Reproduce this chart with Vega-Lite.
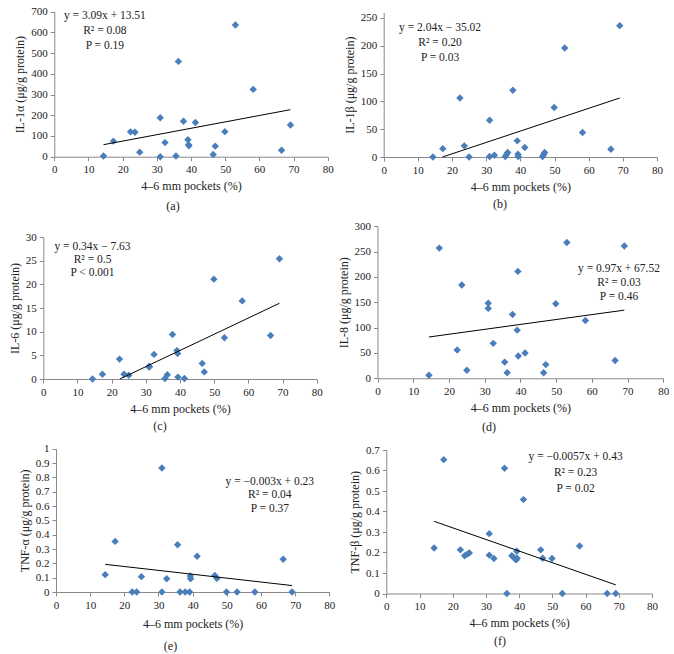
{
  "$schema": "https://vega.github.io/schema/vega-lite/v6.json",
  "padding": 0,
  "background": "white",
  "columns": 2,
  "spacing": 0,
  "bounds": "flush",
  "config": {
    "view": {"stroke": null},
    "axis": {"grid": false, "domainColor": "#8a8a8a", "tickColor": "#8a8a8a", "tickSize": 4, "labelFont": "Liberation Serif", "labelFontSize": 11, "labelColor": "#222222", "titleFont": "Liberation Serif", "titleFontSize": 12, "titleFontWeight": "normal", "titleColor": "#222222", "labelPadding": 3, "titlePadding": 6, "labelFlush": false, "labelOverlap": false},
    "title": {"font": "Liberation Serif", "fontSize": 12, "fontWeight": "normal", "color": "#222222", "orient": "bottom", "anchor": "middle", "frame": "group"},
    "text": {"font": "Liberation Serif", "fontSize": 11.5, "color": "#222222"}
  },
  "datasets": {
    "a": [{"x":14.4,"y":3},{"x":17.3,"y":75},{"x":22.3,"y":120},{"x":23.6,"y":118},{"x":25.0,"y":22},{"x":31.0,"y":188},{"x":31.0,"y":0},{"x":32.4,"y":68},{"x":35.6,"y":3},{"x":36.3,"y":460},{"x":37.8,"y":171},{"x":39.1,"y":82},{"x":39.3,"y":58},{"x":39.4,"y":53},{"x":41.3,"y":165},{"x":46.5,"y":11},{"x":47.1,"y":51},{"x":49.9,"y":121},{"x":53.0,"y":636},{"x":58.2,"y":325},{"x":66.5,"y":31},{"x":69.1,"y":153}],
    "b": [{"x":14.4,"y":0},{"x":17.3,"y":15},{"x":22.3,"y":106},{"x":23.6,"y":20},{"x":25.0,"y":0},{"x":31.0,"y":66},{"x":31.0,"y":1},{"x":32.4,"y":3},{"x":35.6,"y":1},{"x":36.0,"y":5},{"x":36.3,"y":8},{"x":37.8,"y":120},{"x":39.1,"y":29},{"x":39.3,"y":5},{"x":39.4,"y":1},{"x":41.3,"y":17},{"x":46.5,"y":1},{"x":46.9,"y":5},{"x":47.1,"y":8},{"x":49.9,"y":89},{"x":53.0,"y":196},{"x":58.2,"y":44},{"x":66.5,"y":14},{"x":69.1,"y":236}],
    "c": [{"x":14.4,"y":0},{"x":17.3,"y":1.0},{"x":22.3,"y":4.2},{"x":23.6,"y":1.0},{"x":25.0,"y":0.8},{"x":31.0,"y":2.7},{"x":31.0,"y":2.5},{"x":32.4,"y":5.2},{"x":35.6,"y":0.1},{"x":36.3,"y":0.9},{"x":37.8,"y":9.4},{"x":39.1,"y":6.0},{"x":39.3,"y":5.4},{"x":39.4,"y":0.4},{"x":41.3,"y":0.1},{"x":46.5,"y":3.3},{"x":47.1,"y":1.5},{"x":49.9,"y":21.1},{"x":53.0,"y":8.7},{"x":58.2,"y":16.5},{"x":66.5,"y":9.2},{"x":69.1,"y":25.4}],
    "d": [{"x":14.4,"y":6},{"x":17.3,"y":257},{"x":22.3,"y":56},{"x":23.6,"y":184},{"x":25.0,"y":16},{"x":31.0,"y":148},{"x":31.0,"y":138},{"x":32.4,"y":69},{"x":35.6,"y":32},{"x":36.3,"y":11},{"x":37.8,"y":126},{"x":39.1,"y":95},{"x":39.3,"y":211},{"x":39.4,"y":44},{"x":41.3,"y":50},{"x":46.5,"y":11},{"x":47.1,"y":27},{"x":49.9,"y":147},{"x":53.0,"y":268},{"x":58.2,"y":114},{"x":66.5,"y":35},{"x":69.1,"y":261}],
    "e": [{"x":14.4,"y":0.121},{"x":17.3,"y":0.353},{"x":22.3,"y":0},{"x":23.6,"y":0},{"x":25.0,"y":0.107},{"x":31.0,"y":0.865},{"x":31.0,"y":0},{"x":32.4,"y":0.093},{"x":35.6,"y":0.33},{"x":36.3,"y":0},{"x":37.8,"y":0},{"x":39.1,"y":0},{"x":39.3,"y":0.112},{"x":39.4,"y":0.093},{"x":41.3,"y":0.249},{"x":46.5,"y":0.116},{"x":47.1,"y":0.095},{"x":49.9,"y":0},{"x":53.0,"y":0},{"x":58.2,"y":0},{"x":66.5,"y":0.228},{"x":69.1,"y":0}],
    "f": [{"x":14.4,"y":0.222},{"x":17.3,"y":0.653},{"x":22.3,"y":0.213},{"x":23.6,"y":0.184},{"x":24.4,"y":0.192},{"x":25.0,"y":0.198},{"x":31.0,"y":0.292},{"x":31.0,"y":0.187},{"x":32.4,"y":0.171},{"x":35.6,"y":0.611},{"x":36.3,"y":0},{"x":37.8,"y":0.184},{"x":38.5,"y":0.174},{"x":39.1,"y":0.164},{"x":39.3,"y":0.206},{"x":39.4,"y":0.172},{"x":41.3,"y":0.458},{"x":46.5,"y":0.213},{"x":47.1,"y":0.172},{"x":49.9,"y":0.171},{"x":53.0,"y":0},{"x":58.2,"y":0.232},{"x":66.5,"y":0},{"x":69.1,"y":0}],
    "la": [{"x":14.4,"y":58},{"x":69.1,"y":227}],
    "lb": [{"x":17.2,"y":0},{"x":69.1,"y":106}],
    "lc": [{"x":22.4,"y":0},{"x":69.1,"y":16.0}],
    "ld": [{"x":14.4,"y":81.5},{"x":69.1,"y":134.5}],
    "le": [{"x":14.4,"y":0.193},{"x":69.1,"y":0.045}],
    "lf": [{"x":14.4,"y":0.352},{"x":69.1,"y":0.042}],
    "ta": [{"x":14.8,"y":665,"t":"y = 3.09x + 13.51|R² = 0.08|P = 0.19"}],
    "tb": [{"x":16.5,"y":226,"t":"y = 2.04x − 35.02|R² = 0.20|P = 0.03"}],
    "tc": [{"x":14.4,"y":27.3,"t":"y = 0.34x − 7.63|R² = 0.5|P < 0.001"}],
    "td": [{"x":67.6,"y":209.8,"t":"y = 0.97x + 67.52|R² = 0.03|P = 0.46"}],
    "te": [{"x":62.6,"y":0.747,"t":"y = −0.003x + 0.23|R² = 0.04|P = 0.37"}],
    "tf": [{"x":57,"y":0.651,"t":"y = −0.0057x + 0.43|R² = 0.23|P = 0.02"}]
  },
  "concat": [
    {
      "width": 337, "height": 218,
      "title": {"text": "(a)", "dx": 4.5, "offset": -17},
      "layer": [
        {"data": {"name": "a"}, "mark": {"type": "point", "shape": "diamond", "filled": true, "size": 55, "color": "#4a7ebb", "opacity": 1},
         "encoding": {
           "x": {"field": "x", "type": "quantitative", "scale": {"domain": [0, 80], "range": [54.3, 327.7]}, "axis": {"values": [0,10,20,30,40,50,60,70,80], "tickCount": 30, "labelOverlap": false, "offset": -61.3, "title": "4–6 mm pockets (%)"}},
           "y": {"field": "y", "type": "quantitative", "scale": {"domain": [0, 700], "range": [156.7, 11.7]}, "axis": {"values": [0,100,200,300,400,500,600,700], "tickCount": 30, "labelOverlap": false, "offset": -54.3, "title": "IL-1α (μg/g protein)", "titlePadding": 4}}
         }},
        {"data": {"name": "la"}, "mark": {"type": "line", "color": "black", "strokeWidth": 1}, "encoding": {"x": {"field": "x", "type": "quantitative"}, "y": {"field": "y", "type": "quantitative"}}},
        {"data": {"name": "ta"}, "mark": {"type": "text", "align": "center", "baseline": "alphabetic", "lineBreak": "|", "lineHeight": 15}, "encoding": {"x": {"field": "x", "type": "quantitative"}, "y": {"field": "y", "type": "quantitative"}, "text": {"field": "t"}}}
      ]
    },
    {
      "width": 337, "height": 218,
      "title": {"text": "(b)", "dx": -5.5, "offset": -19},
      "layer": [
        {"data": {"name": "b"}, "mark": {"type": "point", "shape": "diamond", "filled": true, "size": 55, "color": "#4a7ebb", "opacity": 1},
         "encoding": {
           "x": {"field": "x", "type": "quantitative", "scale": {"domain": [0, 80], "range": [46.7, 320]}, "axis": {"values": [0,10,20,30,40,50,60,70,80], "tickCount": 30, "labelOverlap": false, "offset": -61, "title": "4–6 mm pockets (%)"}},
           "y": {"field": "y", "type": "quantitative", "scale": {"domain": [0, 250], "range": [157, 12.3]}, "axis": {"values": [0,50,100,150,200,250], "tickCount": 30, "labelOverlap": false, "offset": -46.7, "title": "IL-1β (μg/g protein)", "titlePadding": 4}}
         }},
        {"data": {"name": "lb"}, "mark": {"type": "line", "color": "black", "strokeWidth": 1}, "encoding": {"x": {"field": "x", "type": "quantitative"}, "y": {"field": "y", "type": "quantitative"}}},
        {"data": {"name": "tb"}, "mark": {"type": "text", "align": "center", "baseline": "alphabetic", "lineBreak": "|", "lineHeight": 15}, "encoding": {"x": {"field": "x", "type": "quantitative"}, "y": {"field": "y", "type": "quantitative"}, "text": {"field": "t"}}}
      ]
    },
    {
      "width": 337, "height": 218,
      "title": {"text": "(c)", "dx": -8.5, "offset": -15},
      "layer": [
        {"data": {"name": "c"}, "mark": {"type": "point", "shape": "diamond", "filled": true, "size": 55, "color": "#4a7ebb", "opacity": 1},
         "encoding": {
           "x": {"field": "x", "type": "quantitative", "scale": {"domain": [0, 80], "range": [43.3, 316.7]}, "axis": {"values": [0,10,20,30,40,50,60,70,80], "tickCount": 30, "labelOverlap": false, "offset": -57, "title": "4–6 mm pockets (%)"}},
           "y": {"field": "y", "type": "quantitative", "scale": {"domain": [0, 30], "range": [161, 19]}, "axis": {"values": [0,5,10,15,20,25,30], "tickCount": 30, "labelOverlap": false, "offset": -43.3, "title": "IL-6 (μg/g protein)", "titlePadding": 4}}
         }},
        {"data": {"name": "lc"}, "mark": {"type": "line", "color": "black", "strokeWidth": 1}, "encoding": {"x": {"field": "x", "type": "quantitative"}, "y": {"field": "y", "type": "quantitative"}}},
        {"data": {"name": "tc"}, "mark": {"type": "text", "align": "center", "baseline": "alphabetic", "lineBreak": "|", "lineHeight": 13}, "encoding": {"x": {"field": "x", "type": "quantitative"}, "y": {"field": "y", "type": "quantitative"}, "text": {"field": "t"}}}
      ]
    },
    {
      "width": 337, "height": 218,
      "title": {"text": "(d)", "dx": -16.5, "offset": -14},
      "layer": [
        {"data": {"name": "d"}, "mark": {"type": "point", "shape": "diamond", "filled": true, "size": 55, "color": "#4a7ebb", "opacity": 1},
         "encoding": {
           "x": {"field": "x", "type": "quantitative", "scale": {"domain": [0, 80], "range": [40.5, 326.3]}, "axis": {"values": [0,10,20,30,40,50,60,70,80], "tickCount": 30, "labelOverlap": false, "offset": -57.7, "title": "4–6 mm pockets (%)"}},
           "y": {"field": "y", "type": "quantitative", "scale": {"domain": [0, 300], "range": [160.3, 8.3]}, "axis": {"values": [0,50,100,150,200,250,300], "tickCount": 30, "labelOverlap": false, "offset": -40.5, "title": "IL-8 (μg/g protein)", "titlePadding": 4}}
         }},
        {"data": {"name": "ld"}, "mark": {"type": "line", "color": "black", "strokeWidth": 1}, "encoding": {"x": {"field": "x", "type": "quantitative"}, "y": {"field": "y", "type": "quantitative"}}},
        {"data": {"name": "td"}, "mark": {"type": "text", "align": "center", "baseline": "alphabetic", "lineBreak": "|", "lineHeight": 14}, "encoding": {"x": {"field": "x", "type": "quantitative"}, "y": {"field": "y", "type": "quantitative"}, "text": {"field": "t"}}}
      ]
    },
    {
      "width": 337, "height": 218,
      "title": {"text": "(e)", "dx": 2, "offset": -13},
      "layer": [
        {"data": {"name": "e"}, "mark": {"type": "point", "shape": "diamond", "filled": true, "size": 55, "color": "#4a7ebb", "opacity": 1},
         "encoding": {
           "x": {"field": "x", "type": "quantitative", "scale": {"domain": [0, 80], "range": [56, 329.3]}, "axis": {"values": [0,10,20,30,40,50,60,70,80], "tickCount": 30, "labelOverlap": false, "offset": -62, "title": "4–6 mm pockets (%)", "titlePadding": 8}},
           "y": {"field": "y", "type": "quantitative", "scale": {"domain": [0, 1], "range": [156, 12.7]}, "axis": {"values": [0,0.1,0.2,0.3,0.4,0.5,0.6,0.7,0.8,0.9,1], "tickCount": 30, "format": ".1~f", "labelOverlap": false, "offset": -56, "title": "TNF-α (μg/g protein)", "titlePadding": 4}}
         }},
        {"data": {"name": "le"}, "mark": {"type": "line", "color": "black", "strokeWidth": 1}, "encoding": {"x": {"field": "x", "type": "quantitative"}, "y": {"field": "y", "type": "quantitative"}}},
        {"data": {"name": "te"}, "mark": {"type": "text", "align": "center", "baseline": "alphabetic", "lineBreak": "|", "lineHeight": 13.5}, "encoding": {"x": {"field": "x", "type": "quantitative"}, "y": {"field": "y", "type": "quantitative"}, "text": {"field": "t"}}}
      ]
    },
    {
      "width": 337, "height": 218,
      "title": {"text": "(f)", "dx": -5.5, "offset": -18},
      "layer": [
        {"data": {"name": "f"}, "mark": {"type": "point", "shape": "diamond", "filled": true, "size": 55, "color": "#4a7ebb", "opacity": 1},
         "encoding": {
           "x": {"field": "x", "type": "quantitative", "scale": {"domain": [0, 80], "range": [49.3, 315]}, "axis": {"values": [0,10,20,30,40,50,60,70,80], "tickCount": 30, "labelOverlap": false, "offset": -60.5, "title": "4–6 mm pockets (%)"}},
           "y": {"field": "y", "type": "quantitative", "scale": {"domain": [0, 0.7], "range": [157.5, 14]}, "axis": {"values": [0,0.1,0.2,0.3,0.4,0.5,0.6,0.7], "tickCount": 30, "format": ".1~f", "labelOverlap": false, "offset": -49.3, "title": "TNF-β (μg/g protein)", "titlePadding": 4}}
         }},
        {"data": {"name": "lf"}, "mark": {"type": "line", "color": "black", "strokeWidth": 1}, "encoding": {"x": {"field": "x", "type": "quantitative"}, "y": {"field": "y", "type": "quantitative"}}},
        {"data": {"name": "tf"}, "mark": {"type": "text", "align": "center", "baseline": "alphabetic", "lineBreak": "|", "lineHeight": 16}, "encoding": {"x": {"field": "x", "type": "quantitative"}, "y": {"field": "y", "type": "quantitative"}, "text": {"field": "t"}}}
      ]
    }
  ]
}
